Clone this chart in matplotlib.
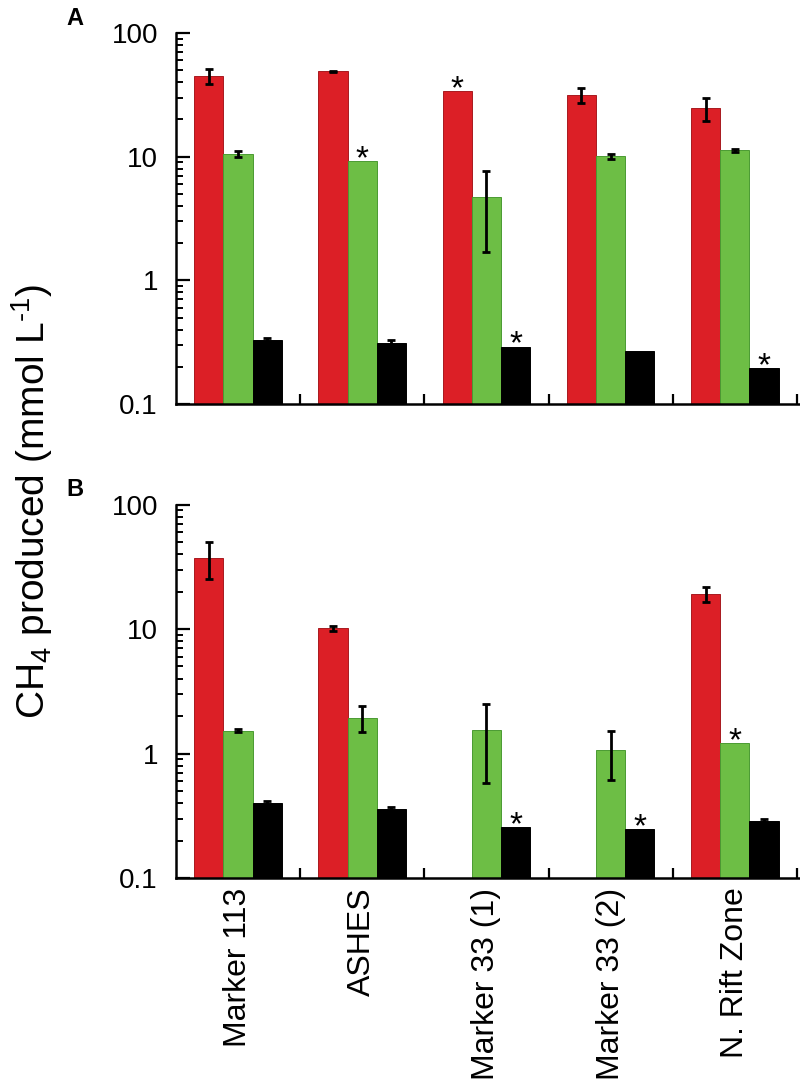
import numpy as np
import matplotlib
matplotlib.use('Agg')
from matplotlib import pyplot as plt
from matplotlib.ticker import FixedLocator, NullFormatter

plt.rcParams['font.family'] = ['Liberation Sans', 'DejaVu Sans']
plt.rcParams['mathtext.fontset'] = 'custom'
plt.rcParams['mathtext.rm'] = 'Liberation Sans'
plt.rcParams['mathtext.it'] = 'Liberation Sans:italic'
plt.rcParams['mathtext.bf'] = 'Liberation Sans:bold'

sites = ['Marker 113', 'ASHES', 'Marker 33 (1)', 'Marker 33 (2)', 'N. Rift Zone']

# panel A
a_red = [45, 49, 34, 31.6, 24.6]
a_red_err = [6, 0.6, 0, 4.4, 5.2]
a_green = [10.6, 9.2, 4.7, 10.1, 11.3]
a_green_err = [0.6, 0, 3.0, 0.5, 0.3]
a_black = [0.33, 0.31, 0.29, 0.27, 0.195]
a_black_err = [0.012, 0.02, 0, 0, 0]
a_stars = [('red', 2), ('green', 1), ('black', 2), ('black', 4)]

# panel B
b_red = [37.5, 10.1, np.nan, np.nan, 19.1]
b_red_err = [12.3, 0.4, 0, 0, 2.7]
b_green = [1.52, 1.94, 1.55, 1.07, 1.21]
b_green_err = [0.04, 0.45, 0.97, 0.46, 0]
b_black = [0.40, 0.36, 0.257, 0.248, 0.287]
b_black_err = [0.012, 0.012, 0, 0, 0.012]
b_stars = [('green', 4), ('black', 2), ('black', 3)]

colors = {'red': '#dc1f26', 'green': '#6dbe45', 'black': '#000000'}
edges = {'red': '#a81a1f', 'green': '#4a9a32', 'black': '#000000'}
offs = {'red': -0.235, 'green': 0.0, 'black': 0.235}
w = 0.235

fig = plt.figure(figsize=(8, 10.79), dpi=100)
axA = fig.add_axes([0.22, 0.6256, 0.78, 0.3438])
axB = fig.add_axes([0.22, 0.1863, 0.78, 0.3461])

def panel(ax, data, stars):
    x = np.arange(len(sites))
    tops = {}
    for key, (vals, errs) in data.items():
        vals = np.array(vals, dtype=float)
        errs = np.array(errs, dtype=float)
        ax.bar(x + offs[key], vals, w, color=colors[key], edgecolor=edges[key],
               linewidth=0.7, zorder=2)
        m = errs > 0
        ax.errorbar(x[m] + offs[key], vals[m], yerr=errs[m], fmt='none',
                    ecolor='black', elinewidth=2, capsize=3.2, capthick=2, zorder=3)
        tops[key] = vals
    for key, i in stars:
        ax.annotate('*', xy=(i + offs[key], tops[key][i]), xytext=(0, -5),
                    textcoords='offset points', ha='center', va='baseline',
                    fontsize=24)
    ax.set_yscale('log')
    ax.set_ylim(0.1, 100)
    ax.set_xlim(-0.5, 4.525)
    ax.set_yticks([0.1, 1, 10, 100])
    ax.set_yticklabels(['0.1', '1', '10', '100'])
    ax.yaxis.set_minor_formatter(NullFormatter())
    ax.tick_params(axis='y', which='major', direction='in', length=10, width=1.6,
                   labelsize=20, pad=13)
    ax.tick_params(axis='y', which='minor', direction='in', length=5, width=1.4)
    ax.set_xticks(x)
    ax.xaxis.set_minor_locator(FixedLocator([0.5, 1.5, 2.5, 3.5, 4.5]))
    ax.tick_params(axis='x', which='major', length=0, pad=7)
    ax.tick_params(axis='x', which='minor', direction='in', length=7, width=1.6)
    for s in ['top', 'right']:
        ax.spines[s].set_visible(False)
    for s in ['left', 'bottom']:
        ax.spines[s].set_linewidth(1.8)

panel(axA, {'red': (a_red, a_red_err), 'green': (a_green, a_green_err),
            'black': (a_black, a_black_err)}, a_stars)
panel(axB, {'red': (b_red, b_red_err), 'green': (b_green, b_green_err),
            'black': (b_black, b_black_err)}, b_stars)

axA.set_xticklabels([])
axB.set_xticklabels(sites, rotation=90, fontsize=23)

fig.text(0.094, 0.983, 'A', fontsize=17, fontweight='bold', ha='center', va='center')
fig.text(0.094, 0.546, 'B', fontsize=17, fontweight='bold', ha='center', va='center')
fig.text(0.04, 0.535, 'CH$_4$ produced (mmol L$^{\u20101}$)', rotation=90,
         fontsize=28, ha='center', va='center')

fig.savefig('out.png', dpi=100)
